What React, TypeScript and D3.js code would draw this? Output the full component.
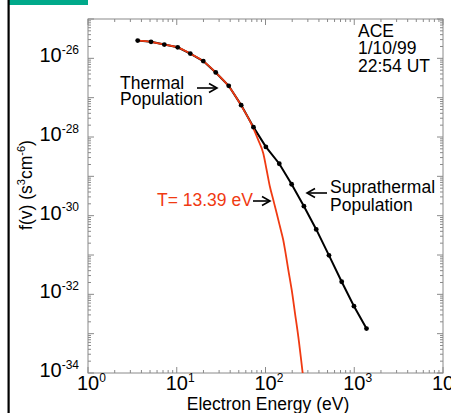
import * as d3 from 'd3';
import {useMemo} from 'react';

const W = 451;
const H = 413;
const M = {left: 88, right: 443, top: 19, bottom: 373};

// measured electron spectrum (black dots)
const measEnergy = [3.63, 5.13, 7.24, 10.25, 14.2, 19.9, 27.5, 38.5, 53.2, 73.2, 101, 143, 197, 271, 373, 519, 722, 993, 1374];
const measF = [2.82e-26, 2.63e-26, 2.24e-26, 1.91e-26, 1.32e-26, 8.5e-27, 4.37e-27, 2.0e-27, 6.46e-28, 1.78e-28, 5.6e-29, 2.09e-29, 6.3e-30, 1.74e-30, 4.47e-31, 9.8e-32, 2.09e-32, 5.0e-33, 1.35e-33];

// maxwellian fit (red)
const fitEnergy = [3.63, 5.13, 7.24, 10.25, 14.2, 19.9, 27.5, 38.5, 53.2, 71.8, 83, 94.5, 103, 112, 122.5, 133.7, 145.8, 158.5, 166, 180.7, 197.4, 215, 234.4, 262.6];
const fitF = [2.82e-26, 2.63e-26, 2.24e-26, 1.91e-26, 1.32e-26, 8.5e-27, 4.37e-27, 1.95e-27, 6.3e-28, 1.82e-28, 8.3e-29, 3.8e-29, 1.45e-29, 5.5e-30, 2.5e-30, 1.15e-30, 5.2e-31, 2.4e-31, 1.35e-31, 4.2e-32, 1.29e-32, 3.3e-33, 8.3e-34, 9.8e-35];

const xLabelExp = [0, 1, 2, 3, 4];
const yLabelExp = [-34, -32, -30, -28, -26];
const infoLines = ['ACE', '1/10/99', '22:54 UT'];

const FONT = '"Liberation Sans", Arial, Helvetica, sans-serif';
const AXIS = '#8a8a8a';
const RED = '#f03a12';

function Arrow({x1, x2, y, color}: {x1: number; x2: number; y: number; color: string}) {
  // x2 is the head
  const dir = x2 > x1 ? 1 : -1;
  return (
    <g stroke={color} strokeWidth={1.6} fill="none">
      <line x1={x1} y1={y} x2={x2} y2={y} />
      <path d={`M${x2 - dir * 8},${y - 4.5} L${x2},${y} L${x2 - dir * 8},${y + 4.5}`} />
    </g>
  );
}

function App() {
  const x = useMemo(() => d3.scaleLog().domain([1, 1e4]).range([M.left, M.right]), []);
  const y = useMemo(() => d3.scaleLog().domain([1e-34, 1e-25]).range([M.bottom, M.top]), []);

  const meas = measEnergy.map((e, i) => [e, measF[i]] as [number, number]);
  const fit = fitEnergy.map((e, i) => [e, fitF[i]] as [number, number]);

  const measLine = d3.line<[number, number]>().x((d) => x(d[0])).y((d) => y(d[1])).curve(d3.curveLinear)(meas)!;
  const fitLine = d3.line<[number, number]>().x((d) => x(d[0])).y((d) => y(d[1])).curve(d3.curveMonotoneX)(fit)!;

  const xTicks: {v: number; major: boolean}[] = [];
  for (let p = 0; p < 4; p++) for (let k = 1; k <= 9; k++) xTicks.push({v: k * 10 ** p, major: k === 1});
  xTicks.push({v: 1e4, major: true});
  const yTicks: {v: number; major: boolean}[] = [];
  for (let p = -34; p < -25; p++) for (let k = 1; k <= 9; k++) yTicks.push({v: k * 10 ** p, major: k === 1});
  yTicks.push({v: 1e-25, major: true});

  return (
    <svg width={W} height={H} style={{position: 'absolute', left: 0, top: 0}} fontFamily={FONT}>
      <rect width={W} height={H} fill="#fff" />
      <defs>
        <clipPath id="plot">
          <rect x={M.left} y={M.top} width={M.right - M.left} height={M.bottom - M.top} />
        </clipPath>
      </defs>

      {/* page decorations */}
      <rect x={9} y={0} width={79} height={5} fill="#00a98a" />
      <rect x={7.5} y={0} width={2.2} height={H} fill="#000" />

      {/* frame + ticks */}
      <rect x={M.left} y={M.top} width={M.right - M.left} height={M.bottom - M.top} fill="none" stroke={AXIS} strokeWidth={1} />
      <g stroke={AXIS} strokeWidth={1}>
        {xTicks.map((t, i) => {
          const px = x(t.v);
          const len = t.major ? 6 : 3;
          return (
            <g key={`xt${i}`}>
              <line x1={px} x2={px} y1={M.bottom} y2={M.bottom - len} />
              <line x1={px} x2={px} y1={M.top} y2={M.top + len} />
            </g>
          );
        })}
        {yTicks.map((t, i) => {
          const py = y(t.v);
          const len = t.major ? 6 : 3;
          return (
            <g key={`yt${i}`}>
              <line x1={M.left} x2={M.left + len} y1={py} y2={py} />
              <line x1={M.right} x2={M.right - len} y1={py} y2={py} />
            </g>
          );
        })}
      </g>

      {/* tick labels */}
      {xLabelExp.map((p) => (
        <text key={`xl${p}`} x={x(10 ** p) - 11} y={390} fontSize={20} fill="#000">
          10<tspan dy={-8} fontSize={12}>{p}</tspan>
        </text>
      ))}
      {yLabelExp.map((p) => (
        <text key={`yl${p}`} x={79} y={y(10 ** p) + 4} fontSize={20} fill="#000" textAnchor="end">
          10<tspan dy={-8.5} fontSize={12}>{p}</tspan>
        </text>
      ))}

      {/* axis titles */}
      <text x={268} y={410} fontSize={17.5} textAnchor="middle" fill="#000">Electron Energy (eV)</text>
      <text transform="translate(32,185) rotate(-90)" fontSize={17.5} textAnchor="middle" fill="#000">
        f(v) (s<tspan dy={-7} fontSize={11}>3</tspan><tspan dy={7}>cm</tspan><tspan dy={-7} fontSize={11}>-6</tspan><tspan dy={7}>)</tspan>
      </text>

      {/* data */}
      <g clipPath="url(#plot)">
        <path d={measLine} fill="none" stroke="#000" strokeWidth={2} />
        <path d={fitLine} fill="none" stroke={RED} strokeWidth={1.8} />
        {meas.map((d, i) => (
          <circle key={`pt${i}`} cx={x(d[0])} cy={y(d[1])} r={2.4} fill="#000" />
        ))}
      </g>

      {/* annotations */}
      {infoLines.map((s, i) => (
        <text key={s} x={358} y={37 + i * 17.4} fontSize={17.5} fill="#000">{s}</text>
      ))}
      <text x={120} y={89} fontSize={17.5} fill="#000">Thermal</text>
      <text x={120} y={105} fontSize={17.5} fill="#000">Population</text>
      <Arrow x1={197} x2={217} y={88} color="#000" />

      <text x={157} y={206} fontSize={17.5} fill={RED}>T= 13.39 eV</text>
      <Arrow x1={253} x2={270} y={201} color="#000" />

      <text x={330} y={193} fontSize={17.5} fill="#000">Suprathermal</text>
      <text x={330} y={211} fontSize={17.5} fill="#000">Population</text>
      <Arrow x1={327} x2={307} y={193} color="#000" />
    </svg>
  );
}

export default App;
